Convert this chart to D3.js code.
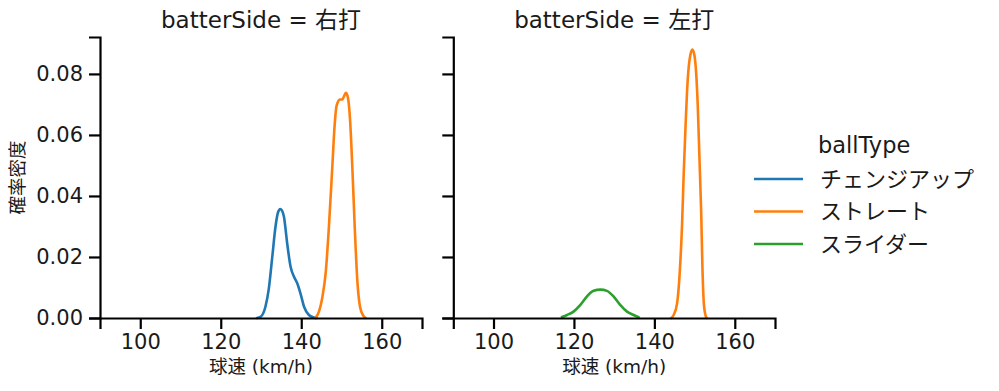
<!DOCTYPE html>
<html>
<head>
<meta charset="utf-8">
<script src="https://cdn.jsdelivr.net/npm/d3@7"></script>
<style>
  html, body { margin: 0; padding: 0; background: #fff; }
  svg { display: block; }
  text { font-family: "DejaVu Sans", "Noto Sans CJK JP", sans-serif; fill: #1a1a1a; }
</style>
</head>
<body>
<svg id="chart" width="999" height="391"></svg>
<script>
// ---- data ----
const panels = ["右打", "左打"];
const ballTypes = ["チェンジアップ", "ストレート", "スライダー"];
const colors = ["#1f77b4", "#ff7f0e", "#2ca02c"];
const xTicks = [100, 120, 140, 160];
const yTicks = [0.00, 0.02, 0.04, 0.06, 0.08];

// KDE curves: [speed km/h, density]
const changeupRight = [
  [129.0, 0], [129.9, 0.0004], [131.1, 0.0037], [131.9, 0.0092], [132.8, 0.0200],
  [133.6, 0.0299], [134.2, 0.0345], [134.8, 0.0357], [135.3, 0.0350], [135.7, 0.0332],
  [136.5, 0.0245], [137.35, 0.0168], [138.2, 0.0135], [139.0, 0.0114], [139.8, 0.0081],
  [140.7, 0.0037], [141.9, 0.0010], [143.15, 0.0002], [143.8, 0]
];
const straightRight = [
  [143.5, 0], [144.4, 0.0021], [145.2, 0.0065], [146.1, 0.0152], [146.9, 0.0305],
  [147.7, 0.0491], [148.3, 0.0633], [148.7, 0.0690], [149.1, 0.0708], [149.6, 0.0716],
  [150.2, 0.0716], [150.6, 0.0726], [151.1, 0.0738], [151.6, 0.0722], [152.1, 0.0655],
  [152.7, 0.0491], [153.3, 0.0294], [153.95, 0.0119], [154.6, 0.0037], [155.4, 0.0008],
  [156.0, 0]
];
const straightLeft = [
  [144.2, 0], [144.8, 0.0010], [145.65, 0.0048], [146.3, 0.0147], [146.9, 0.0310],
  [147.3, 0.0474], [147.75, 0.0627], [148.15, 0.0748], [148.55, 0.0824], [148.95, 0.0862],
  [149.45, 0.0880], [149.95, 0.0862], [150.4, 0.0802], [150.8, 0.0693], [151.2, 0.0529],
  [151.65, 0.0343], [151.95, 0.0168], [152.3, 0.0048], [152.7, 0.0010], [153.0, 0]
];
const sliderLeft = [
  [117.0, 0.0003], [118.3, 0.0010], [119.9, 0.0021], [121.6, 0.0043], [123.2, 0.0070],
  [124.9, 0.0089], [126.6, 0.0093], [128.2, 0.0089], [129.9, 0.0070], [131.5, 0.0043],
  [133.2, 0.0021], [134.85, 0.0010], [136.1, 0.0003]
];

const panelCurves = [
  [{type: 0, pts: changeupRight}, {type: 1, pts: straightRight}],
  [{type: 1, pts: straightLeft}, {type: 2, pts: sliderLeft}]
];

// ---- layout ----
const svg = d3.select("#chart");
const plotTop = 37, plotBottom = 318;
const panelX = [[100, 422], [453.3, 775]];
const y = d3.scaleLinear().domain([0, 0.0921]).range([plotBottom, plotTop]);
const FONT = '"DejaVu Sans", "Noto Sans CJK JP", sans-serif';

panels.forEach((p, i) => {
  const x = d3.scaleLinear().domain([90, 170]).range(panelX[i]);
  const g = svg.append("g");

  const line = d3.line()
    .x(d => x(d[0])).y(d => y(d[1]))
    .curve(d3.curveMonotoneX);

  panelCurves[i].forEach(c => {
    g.append("path")
      .attr("d", line(c.pts))
      .attr("fill", "none")
      .attr("stroke", colors[c.type])
      .attr("stroke-width", 2.6)
      .attr("stroke-linejoin", "round")
      .attr("stroke-linecap", "round");
  });

  // x axis
  const xa = g.append("g").attr("transform", `translate(0,${plotBottom})`)
    .call(d3.axisBottom(x).tickValues(xTicks).tickSize(11).tickPadding(5).tickFormat(d3.format("d")));
  xa.select(".domain").attr("stroke", "#000").attr("stroke-width", 2.2);
  xa.selectAll(".tick line").attr("stroke", "#000").attr("stroke-width", 2.2);
  xa.selectAll(".tick text").attr("font-size", 21).attr("fill", "#1a1a1a")
    .attr("font-family", FONT);

  // y axis
  const ya = g.append("g").attr("transform", `translate(${panelX[i][0]},0)`)
    .call(d3.axisLeft(y).tickValues(yTicks).tickSize(11).tickPadding(6)
      .tickFormat(i === 0 ? d3.format(".2f") : () => ""));
  ya.select(".domain").attr("stroke", "#000").attr("stroke-width", 2.2);
  ya.selectAll(".tick line").attr("stroke", "#000").attr("stroke-width", 2.2);
  ya.selectAll(".tick text").attr("font-size", 21).attr("fill", "#1a1a1a")
    .attr("font-family", FONT);

  const cx = (panelX[i][0] + panelX[i][1]) / 2;
  g.append("text").attr("x", cx).attr("y", 28).attr("text-anchor", "middle")
    .attr("font-size", 23).text(`batterSide = ${p}`);

  g.append("text").attr("x", cx).attr("y", 373).attr("text-anchor", "middle")
    .attr("font-size", 18.5).text("球速 (km/h)");
});

// y label
svg.append("text")
  .attr("transform", `translate(24,${(plotTop + plotBottom) / 2}) rotate(-90)`)
  .attr("text-anchor", "middle").attr("font-size", 18.5).text("確率密度");

// legend
const lg = svg.append("g");
lg.append("text").attr("x", 818).attr("y", 153).attr("font-size", 22.5).text("ballType");
ballTypes.forEach((t, k) => {
  const ly = 179 + k * 32.5;
  lg.append("line").attr("x1", 754).attr("x2", 803).attr("y1", ly).attr("y2", ly)
    .attr("stroke", colors[k]).attr("stroke-width", 2.6);
  lg.append("text").attr("x", 820).attr("y", ly).attr("dy", "0.35em")
    .attr("font-size", 22).text(t);
});
</script>
</body>
</html>
